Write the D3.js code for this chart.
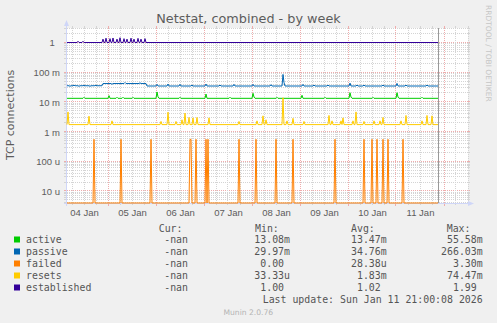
<!DOCTYPE html>
<html>
<head>
<meta charset="utf-8">
<script src="https://d3js.org/d3.v7.min.js"></script>
<style>
    body {
        margin: 0;
        background: #f0f0f0;
    }

    svg {
        display: block;
        font-family: "DejaVu Sans", sans-serif;
    }

    .grid-minor {
        stroke: #d4d4d4;
        stroke-dasharray: 1, 1;
    }

    .grid-major {
        stroke: #efacac;
        stroke-dasharray: 1, 1;
    }

    .tick-minor { stroke: #d4d4d4; }
    .tick-major { stroke: #efacac; }

    .axis .tick text {
        fill: #5c5c5c;
        font-size: 9.5px;
        white-space: pre;
    }

    .legend text {
        font-family: "DejaVu Sans Mono", monospace;
        font-size: 9.9px;
        fill: #555555;
        white-space: pre;
    }

    .series {
        fill: none;
        stroke-width: 1;
    }
</style>
</head>

<body>
<svg id="the-chart" width="497" height="323"></svg>

<script>

    // ---- data (times are January 2026) ----
    var seriesNames = ['active', 'passive', 'failed', 'resets', 'established'];
    var seriesColors = ['#00cc00', '#0066b3', '#ff8000', '#ffcc00', '#330099'];

    var dataStart = '04 03:30';
    var dataEnd = '11 21:00';

    // levels: [time, value] -> value holds from that time on
    // peaks: single 30 min samples that stick out of the level
    var activeLevels = [['04 03:30', 13.2e-3]];
    var activePeaks = [
        ['04 12:00', 14.3e-3], ['05 00:30', 16.3e-3], ['05 04:30', 14.3e-3], ['05 07:30', 14.3e-3],
        ['05 12:30', 14.3e-3], ['06 00:30', 21.6e-3], ['06 01:00', 14.8e-3], ['06 12:00', 14.3e-3],
        ['07 01:00', 18.4e-3], ['07 13:00', 14.3e-3], ['08 00:30', 19.5e-3], ['08 01:00', 14.6e-3],
        ['08 12:30', 14.3e-3], ['09 01:00', 16.7e-3], ['09 12:30', 14.3e-3], ['10 01:00', 20.4e-3],
        ['10 01:30', 14.6e-3], ['10 12:30', 14.3e-3], ['11 00:30', 20.4e-3], ['11 01:00', 14.6e-3],
        ['11 13:00', 14.3e-3]
    ];

    var passiveLevels = [['04 03:30', 35e-3], ['04 21:30', 41.5e-3], ['05 19:30', 34.3e-3]];
    var passivePeaks = [
        ['04 05:00', 33.5e-3], ['04 07:00', 36.5e-3], ['04 09:30', 33.5e-3], ['04 12:00', 36e-3],
        ['04 15:00', 33.5e-3], ['04 18:00', 36.5e-3], ['05 02:00', 39e-3], ['05 08:30', 45e-3],
        ['05 16:00', 44e-3], ['06 00:30', 39e-3], ['06 06:00', 40e-3], ['06 12:00', 39e-3],
        ['06 18:00', 37e-3], ['07 01:00', 40e-3], ['07 08:00', 37e-3], ['07 15:00', 39e-3],
        ['08 00:30', 39e-3], ['08 09:30', 38e-3], ['08 15:30', 84e-3], ['08 16:00', 45e-3],
        ['09 01:30', 39e-3], ['09 07:00', 37e-3], ['09 14:00', 37e-3], ['10 01:00', 43e-3],
        ['10 04:30', 37e-3], ['10 08:00', 37e-3], ['10 17:30', 37e-3], ['11 00:30', 42e-3],
        ['11 05:00', 37e-3], ['11 15:30', 37e-3]
    ];

    var failedLevels = [['04 03:30', 0]];
    var failedPeaks = [
        ['04 17:00', 0.55e-3], ['05 06:30', 0.55e-3], ['05 21:30', 0.55e-3], ['06 17:00', 0.55e-3],
        ['06 17:30', 0.55e-3], ['06 20:00', 0.55e-3], ['07 01:00', 0.55e-3], ['07 02:00', 0.55e-3],
        ['07 17:30', 0.55e-3], ['08 02:00', 0.55e-3], ['08 12:00', 0.55e-3], ['08 20:30', 0.55e-3],
        ['09 17:30', 0.55e-3], ['10 08:00', 0.55e-3], ['10 12:00', 0.55e-3], ['10 14:30', 0.55e-3],
        ['10 17:30', 0.55e-3], ['10 20:00', 0.55e-3], ['11 03:30', 0.55e-3]
    ];

    var resetsLevels = [['04 03:30', 1.72e-3]];
    var resetsPeaks = [
        ['04 04:00', 4.6e-3], ['04 14:30', 3.3e-3], ['05 02:00', 2.3e-3], ['06 02:30', 2.2e-3],
        ['06 06:00', 4.5e-3], ['06 10:00', 2.2e-3], ['06 13:00', 2.5e-3], ['06 14:30', 4.2e-3],
        ['06 16:30', 3.0e-3], ['06 18:30', 2.9e-3], ['06 20:30', 3.0e-3], ['07 02:30', 2.9e-3],
        ['07 17:30', 2.2e-3], ['08 02:30', 2.3e-3], ['08 05:30', 3.4e-3], ['08 07:00', 2.5e-3],
        ['08 15:30', 13.8e-3], ['08 17:30', 2.3e-3], ['08 20:30', 2.8e-3], ['09 02:00', 2.2e-3],
        ['09 14:30', 3.5e-3], ['09 16:00', 2.3e-3], ['09 20:30', 2.3e-3], ['09 21:30', 2.9e-3],
        ['10 02:30', 2.3e-3], ['10 04:00', 4.6e-3], ['10 08:00', 2.2e-3], ['10 13:00', 2.3e-3],
        ['10 16:00', 2.3e-3], ['10 17:30', 3.0e-3], ['11 02:30', 2.3e-3], ['11 05:00', 3.5e-3],
        ['11 13:00', 2.3e-3], ['11 15:30', 3.5e-3], ['11 18:00', 3.4e-3]
    ];

    var establishedLevels = [['04 03:30', 1]];
    var establishedPeaks = [
        ['04 09:00', 1.1], ['04 11:30', 1.1], ['04 21:30', 1.3], ['04 23:00', 1.4],
        ['05 01:00', 1.35], ['05 02:30', 1.42], ['05 04:30', 1.3], ['05 06:00', 1.45],
        ['05 08:00', 1.35], ['05 09:30', 1.3], ['05 11:30', 1.4], ['05 13:00', 1.3],
        ['05 15:00', 1.38], ['05 16:30', 1.3], ['05 18:30', 1.35]
    ];

    var yTickValues = [1e-5, 1e-4, 1e-3, 1e-2, 1e-1, 1];
    var yTickLabels = ['10 u', '100 u', '1 m', '10 m', '100 m', '1  '];
    var xTickDays = ['04', '05', '06', '07', '08', '09', '10', '11'];

    var legendCur = ['-nan', '-nan', '-nan', '-nan', '-nan'];
    var legendMin = ['13.08m', '29.97m', '0.00 ', '33.33u', '1.00 '];
    var legendAvg = ['13.47m', '34.76m', '28.38u', '1.83m', '1.02 '];
    var legendMax = ['55.58m', '266.03m', '3.30m', '74.47m', '1.99 '];
    var lastUpdate = 'Last update: Sun Jan 11 21:00:08 2026';

    // ---- helpers ----
    var parseTime = d3.timeParse('%Y-%m-%d %H:%M');
    function t(s) { return parseTime('2026-01-' + s); }
    var halfHour = 30 * 60 * 1000;

    function buildSeries(levels, peaks) {
        var lv = levels.map(function(d) { return [+t(d[0]), d[1]]; });
        function levelAt(time) {
            var v = lv[0][1];
            lv.forEach(function(d) { if (d[0] <= time) v = d[1]; });
            return v;
        }
        var pts = new Map();
        lv.forEach(function(d, i) {
            if (i > 0) pts.set(d[0] - halfHour, lv[i - 1][1]);
            pts.set(d[0], d[1]);
        });
        var end = +t(dataEnd);
        pts.set(end, levelAt(end));
        peaks.forEach(function(d) {
            var tm = +t(d[0]);
            pts.set(tm - halfHour, levelAt(tm - halfHour));
            pts.set(tm + halfHour, levelAt(tm + halfHour));
        });
        peaks.forEach(function(d) { pts.set(+t(d[0]), d[1]); });
        return Array.from(pts.entries())
            .filter(function(d) { return d[0] >= +t(dataStart) && d[0] <= end; })
            .sort(function(a, b) { return a[0] - b[0]; });
    }

    var series = [
        buildSeries(activeLevels, activePeaks),
        buildSeries(passiveLevels, passivePeaks),
        buildSeries(failedLevels, failedPeaks),
        buildSeries(resetsLevels, resetsPeaks),
        buildSeries(establishedLevels, establishedPeaks)
    ];

    // ---- layout ----
    var svg = d3.select('#the-chart');
    var plot = { left: 67, right: 468, top: 28, bottom: 203 };

    var x = d3.scaleTime()
        .domain([t('04 03:30'), t('12 12:00')])
        .range([plot.left, plot.right]);

    var yMin = 3.94e-6;
    var y = d3.scaleLog()
        .domain([yMin, 3.08])
        .range([plot.bottom, plot.top])
        .clamp(true);

    svg.append('rect')
        .attr('width', 497).attr('height', 323)
        .attr('fill', '#f0f0f0');

    svg.append('rect')
        .attr('x', plot.left).attr('y', plot.top)
        .attr('width', plot.right - plot.left)
        .attr('height', plot.bottom - plot.top)
        .attr('fill', '#ffffff');

    // grid
    var grid = svg.append('g');

    var hTicks = y.ticks();
    hTicks.forEach(function(v) {
        var major = Math.abs(Math.log10(v) - Math.round(Math.log10(v))) < 1e-9;
        var yy = Math.round(y(v) - 0.5) + 0.5;
        grid.append('line')
            .attr('class', major ? 'grid-major' : 'grid-minor')
            .attr('x1', plot.left).attr('x2', plot.right)
            .attr('y1', yy).attr('y2', yy);
        grid.append('line')
            .attr('class', major ? 'tick-major' : 'tick-minor')
            .attr('x1', plot.left - 3).attr('x2', plot.left)
            .attr('y1', yy).attr('y2', yy);
        grid.append('line')
            .attr('class', major ? 'tick-major' : 'tick-minor')
            .attr('x1', plot.right).attr('x2', plot.right + 2)
            .attr('y1', yy).attr('y2', yy);
    });

    var vTicks = x.ticks(d3.timeHour.every(6));
    vTicks.forEach(function(d) {
        var major = d.getHours() === 0;
        var xx = Math.round(x(d) - 0.5) + 0.5;
        grid.append('line')
            .attr('class', major ? 'grid-major' : 'grid-minor')
            .attr('x1', xx).attr('x2', xx)
            .attr('y1', plot.top).attr('y2', plot.bottom);
        grid.append('line')
            .attr('class', major ? 'tick-major' : 'tick-minor')
            .attr('x1', xx).attr('x2', xx)
            .attr('y1', plot.bottom).attr('y2', plot.bottom + (major ? 3 : 2));
        grid.append('line')
            .attr('class', major ? 'tick-major' : 'tick-minor')
            .attr('x1', xx).attr('x2', xx)
            .attr('y1', plot.top - 2).attr('y2', plot.top);
    });

    // axis lines and arrows
    var axisColor = '#cfd6f8';
    svg.append('line')
        .attr('x1', plot.left - 0.5).attr('x2', plot.left - 0.5)
        .attr('y1', plot.bottom + 3).attr('y2', plot.top - 4)
        .attr('stroke', axisColor);
    svg.append('path')
        .attr('d', 'M' + (plot.left - 3) + ',' + (plot.top - 2) +
                   'L' + (plot.left + 2) + ',' + (plot.top - 2) +
                   'L' + (plot.left - 0.5) + ',' + (plot.top - 8) + 'Z')
        .attr('fill', axisColor);
    svg.append('line')
        .attr('x1', plot.left - 3).attr('x2', plot.right + 1)
        .attr('y1', plot.bottom + 0.5).attr('y2', plot.bottom + 0.5)
        .attr('stroke', axisColor);
    svg.append('path')
        .attr('d', 'M' + (plot.right) + ',' + (plot.bottom - 2) +
                   'L' + (plot.right) + ',' + (plot.bottom + 3) +
                   'L' + (plot.right + 6) + ',' + (plot.bottom + 0.5) + 'Z')
        .attr('fill', axisColor);

    // tick labels
    var yAxis = d3.axisLeft(y)
        .tickValues(yTickValues)
        .tickFormat(function(d, i) { return yTickLabels[i]; })
        .tickSize(0)
        .tickPadding(7);
    var gy = svg.append('g')
        .attr('class', 'axis')
        .attr('transform', 'translate(' + plot.left + ',0)')
        .call(yAxis);
    gy.select('.domain').remove();
    gy.selectAll('text').attr('dy', '0.36em');

    var xAxis = d3.axisBottom(x)
        .tickValues(xTickDays.map(function(d) { return t(d + ' 12:00'); }))
        .tickFormat(d3.timeFormat('%d %b'))
        .tickSize(0)
        .tickPadding(6.3);
    var gx = svg.append('g')
        .attr('class', 'axis')
        .attr('transform', 'translate(0,' + plot.bottom + ')')
        .call(xAxis);
    gx.select('.domain').remove();

    // series
    var line = d3.line()
        .x(function(d) { return x(new Date(d[0])); })
        .y(function(d) { return y(Math.max(d[1], yMin)); });

    series.forEach(function(s, i) {
        svg.append('path')
            .attr('class', 'series')
            .attr('stroke', seriesColors[i])
            .attr('d', line(s));
    });

    // "now" rule
    var nowX = Math.round(x(t(dataEnd)) - 0.5) + 0.5;
    svg.append('line')
        .attr('x1', nowX).attr('x2', nowX)
        .attr('y1', plot.top).attr('y2', plot.bottom)
        .attr('stroke', '#999999');

    // titles
    svg.append('text')
        .attr('x', 248.5).attr('y', 22.7)
        .attr('text-anchor', 'middle')
        .attr('font-size', '12.8px')
        .attr('fill', '#5c5c5c')
        .text('Netstat, combined - by week');

    svg.append('text')
        .attr('transform', 'translate(14,115) rotate(-90)')
        .attr('text-anchor', 'middle')
        .attr('font-size', '11px')
        .attr('fill', '#5c5c5c')
        .text('TCP connections');

    svg.append('text')
        .attr('transform', 'translate(485.5,5) rotate(90)')
        .attr('font-size', '7.5px')
        .attr('fill', '#c6c6c6')
        .text('RRDTOOL / TOBI OETIKER');

    // legend
    var legend = svg.append('g').attr('class', 'legend');
    var headerY = 231.5;
    [['Cur:', 158.7], ['Min:', 255], ['Avg:', 351], ['Max:', 446.7]].forEach(function(h) {
        legend.append('text').attr('x', h[1]).attr('y', headerY).text(h[0]);
    });

    var columns = [[legendCur, 188], [legendMin, 290], [legendAvg, 386.7], [legendMax, 482.7]];
    seriesNames.forEach(function(name, i) {
        var rowY = 243 + i * 12;
        legend.append('rect')
            .attr('x', 14).attr('y', rowY - 6.5)
            .attr('width', 6).attr('height', 6)
            .attr('fill', seriesColors[i]);
        legend.append('text').attr('x', 26).attr('y', rowY).text(name);
        columns.forEach(function(c) {
            legend.append('text')
                .attr('x', c[1]).attr('y', rowY)
                .attr('text-anchor', 'end')
                .text(c[0][i]);
        });
    });

    legend.append('text')
        .attr('x', 482.7).attr('y', 303)
        .attr('text-anchor', 'end')
        .text(lastUpdate);

    svg.append('text')
        .attr('x', 248.3).attr('y', 315)
        .attr('text-anchor', 'middle')
        .attr('font-size', '7.6px')
        .attr('fill', '#b4b4b4')
        .text('Munin 2.0.76');

</script>

</body>
</html>
